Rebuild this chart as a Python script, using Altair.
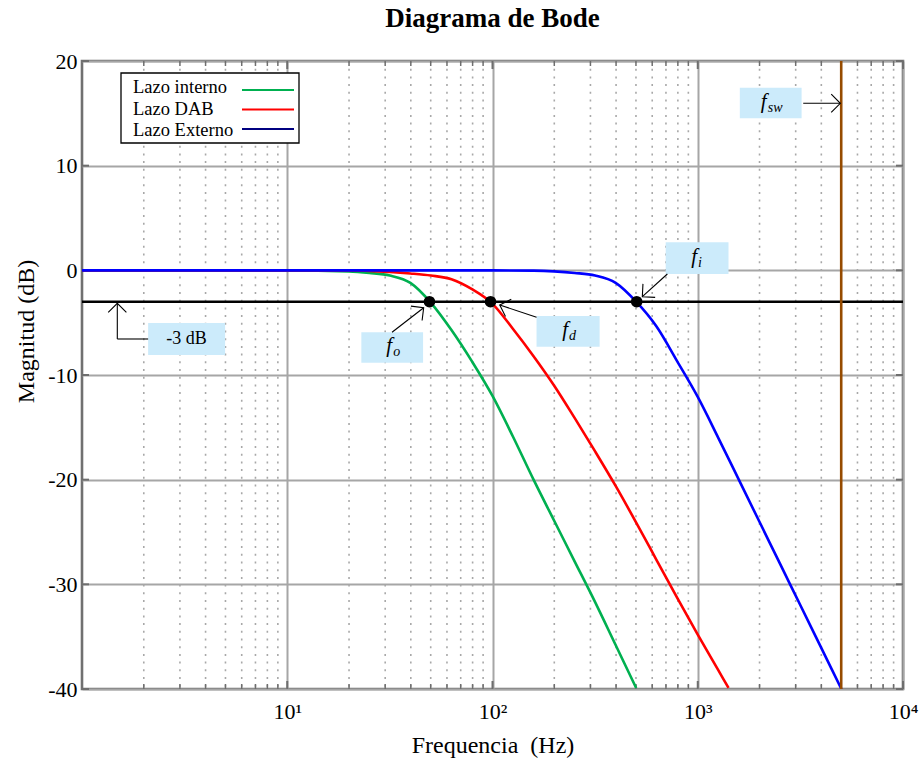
import altair as alt
import pandas as pd
import numpy as np

FONT = "Liberation Serif"

# ---- curve data ----
freq_interno = [1, 10, 19.95, 25.12, 31.62, 39.81, 50.12, 63.10, 79.43, 100, 125.9, 158.5, 199.5, 251.2, 316.2, 398.1, 501.2]
mag_interno = [0, 0, -0.1, -0.25, -0.5, -1.2, -3.1, -5.7, -8.7, -12.0, -15.9, -20.0, -23.9, -27.8, -31.7, -35.8, -39.9]

freq_dab = [1, 10, 19.95, 25.12, 31.62, 39.81, 50.12, 63.10, 79.43, 100, 125.9, 158.5, 199.5, 251.2, 316.2, 398.1, 501.2, 631.0, 794.3, 1000, 1258.9, 1412.5]
mag_dab = [0, 0, -0.02, -0.05, -0.15, -0.3, -0.5, -0.85, -1.8, -3.2, -5.6, -8.2, -11.0, -14.1, -17.3, -20.6, -24.1, -27.7, -31.3, -34.8, -38.2, -39.9]

freq_externo = [1, 100, 158.5, 199.5, 251.2, 316.2, 398.1, 501.2, 631.0, 794.3, 1000, 1258.9, 1584.9, 1995.3, 2511.9, 3162.3, 3981.1, 5011.9]
mag_externo = [0, 0, -0.03, -0.1, -0.25, -0.5, -1.2, -3.0, -5.4, -8.7, -12.1, -16.0, -20.0, -24.0, -28.0, -32.0, -36.0, -40.0]

series_names = ["Lazo interno", "Lazo DAB", "Lazo Externo"]
series_colors = ["#00B050", "#FF0000", "#0000FF"]
legend_colors = ["#00B050", "#FF0000", "#000080"]

# cutoff points (-3 dB)
cut_freq = [49.3, 97.8, 504]
cut_mag = [-3, -3, -3]
f_sw = 5000
level_3db = -3

# grid / tick positions
major_x = [10, 100, 1000, 10000]
minor_x = [m * d for d in [1, 10, 100, 1000] for m in range(2, 10)]
major_y = [-40, -30, -20, -10, 0, 10, 20]

# annotations (data coordinates)
box_main = ["f", "f", "f", "f"]
box_sub = ["o", "d", "i", "sw"]
box_x1 = [22.96, 163.9, 698, 1603]
box_x2 = [45.9, 332.6, 1412, 3206]
box_y1 = [-5.92, -4.36, 2.68, 17.45]
box_y2 = [-8.82, -7.29, -0.35, 14.52]

db_box = dict(x1=[2.10], x2=[4.98], y1=[-5.03], y2=[-8.09], label=["-3 dB"])

arrow_x1 = [2.10, 1.486, 32.4, 163.9, 711, 3265]
arrow_y1 = [-6.56, -6.56, -5.92, -4.49, -0.35, 15.96]
arrow_x2 = [1.486, 1.486, 46.2, 108.5, 537, 4950]
arrow_y2 = [-6.56, -3.15, -3.57, -3.31, -2.52, 15.96]
head_angle = [270, 322, 198.5, 137.8, 0]

# ---- build tables ----
curves = pd.concat([
    pd.DataFrame({"f": freq_interno, "m": mag_interno, "s": series_names[0]}),
    pd.DataFrame({"f": freq_dab, "m": mag_dab, "s": series_names[1]}),
    pd.DataFrame({"f": freq_externo, "m": mag_externo, "s": series_names[2]}),
])

XS = alt.Scale(type="log", domain=[1, 10000], nice=False)
YS = alt.Scale(domain=[-40, 20], nice=False, zero=False)
XA = alt.Axis(values=major_x, grid=True, gridColor="#A6A6A6", gridWidth=2, ticks=False, domain=False,
              labelFlush=False, labelOverlap=False, labelPadding=12, labelFontSize=22, labelColor="black",
              labelFont=FONT,
              labelExpr="datum.value == 10 ? '10\u00b9' : datum.value == 100 ? '10\u00b2' : datum.value == 1000 ? '10\u00b3' : '10\u2074'",
              title="Frequencia\u00a0\u00a0(Hz)", titleFontSize=24, titleFontWeight="normal", titleColor="black",
              titleFont=FONT, titleY=56, titleBaseline="middle")
YA = alt.Axis(values=major_y, grid=True, gridColor="#A6A6A6", gridWidth=2, ticks=False, domain=False,
              labelFlush=False, labelOverlap=False, labelPadding=5, labelFontSize=22, labelColor="black",
              labelFont=FONT, labelExpr="'' + datum.value",
              title="Magnitud (dB)", titleFontSize=24, titleFontWeight="normal", titleColor="black",
              titleFont=FONT, titleX=-56, titleY=270, titleAlign="center", titleBaseline="middle")


def X(f):
    return alt.X(f, type="quantitative", scale=XS, axis=XA)


def Y(f):
    return alt.Y(f, type="quantitative", scale=YS, axis=YA)


layers = []

# minor dotted grid
layers.append(alt.Chart(pd.DataFrame({"x": minor_x})).mark_rule(
    stroke="#A8A8A8", strokeWidth=1.6, strokeDash=[2, 5.7]).encode(x=X("x")))
# ticks drawn inside the frame
layers.append(alt.Chart(pd.DataFrame({"x": minor_x})).mark_rule(stroke="#6E6E6E", strokeWidth=1.5).encode(
    x=X("x"), y=alt.value(628), y2=alt.value(623)))
layers.append(alt.Chart(pd.DataFrame({"x": minor_x})).mark_rule(stroke="#6E6E6E", strokeWidth=1.5).encode(
    x=X("x"), y=alt.value(0), y2=alt.value(5)))
layers.append(alt.Chart(pd.DataFrame({"x": major_x})).mark_rule(stroke="#6E6E6E", strokeWidth=2).encode(
    x=X("x"), y=alt.value(628), y2=alt.value(620)))
layers.append(alt.Chart(pd.DataFrame({"x": major_x})).mark_rule(stroke="#6E6E6E", strokeWidth=2).encode(
    x=X("x"), y=alt.value(0), y2=alt.value(8)))
layers.append(alt.Chart(pd.DataFrame({"y": major_y})).mark_rule(stroke="#6E6E6E", strokeWidth=2).encode(
    y=Y("y"), x=alt.value(0), x2=alt.value(7)))
layers.append(alt.Chart(pd.DataFrame({"y": major_y})).mark_rule(stroke="#6E6E6E", strokeWidth=2).encode(
    y=Y("y"), x=alt.value(814), x2=alt.value(821)))

# curves
layers.append(alt.Chart(curves).mark_line(strokeWidth=2.6, interpolate="monotone", clip=True).encode(
    x=X("f"), y=Y("m"),
    color=alt.Color("s:N", scale=alt.Scale(domain=series_names, range=series_colors), legend=None),
    detail="s:N"))

# -3 dB level and switching frequency
layers.append(alt.Chart(pd.DataFrame({"y": [level_3db]})).mark_rule(stroke="black", strokeWidth=2.6).encode(y=Y("y")))
layers.append(alt.Chart(pd.DataFrame({"x": [f_sw]})).mark_rule(stroke="#964B00", strokeWidth=2.6).encode(x=X("x")))

# cutoff markers
layers.append(alt.Chart(pd.DataFrame({"f": cut_freq, "m": cut_mag})).mark_circle(
    size=135, color="black", opacity=1).encode(x=X("f"), y=Y("m")))

# annotation boxes
boxes = pd.DataFrame({"x1": box_x1, "x2": box_x2, "y1": box_y1, "y2": box_y2, "main": box_main, "sub": box_sub})
boxes["cx"] = np.sqrt(boxes["x1"] * boxes["x2"])
boxes["cy"] = (boxes["y1"] + boxes["y2"]) / 2
dbb = pd.DataFrame(db_box)
dbb["cx"] = np.sqrt(dbb["x1"] * dbb["x2"])
dbb["cy"] = (dbb["y1"] + dbb["y2"]) / 2

BOXC = "#CCEBFB"
layers.append(alt.Chart(boxes).mark_rect(fill=BOXC).encode(x=X("x1"), x2="x2", y=Y("y1"), y2="y2"))
layers.append(alt.Chart(dbb).mark_rect(fill=BOXC).encode(x=X("x1"), x2="x2", y=Y("y1"), y2="y2"))
layers.append(alt.Chart(dbb).mark_text(fontSize=18, font=FONT, color="black").encode(
    x=X("cx"), y=Y("cy"), text="label:N"))

b_small = boxes[boxes["sub"] != "sw"]
b_sw = boxes[boxes["sub"] == "sw"]
for df, dx_main in [(b_small, 0), (b_sw, -4)]:
    layers.append(alt.Chart(df).mark_text(fontSize=21, font=FONT, fontStyle="italic", align="right",
                                          baseline="middle", dx=dx_main, dy=-1, color="black").encode(
        x=X("cx"), y=Y("cy"), text="main:N"))
    layers.append(alt.Chart(df).mark_text(fontSize=14, font=FONT, fontStyle="italic", align="left",
                                          baseline="middle", dx=dx_main + 1, dy=5, color="black").encode(
        x=X("cx"), y=Y("cy"), text="sub:N"))

# arrows
arrows = pd.DataFrame({"x1": arrow_x1, "y1": arrow_y1, "x2": arrow_x2, "y2": arrow_y2})
layers.append(alt.Chart(arrows).mark_rule(stroke="black", strokeWidth=1.1).encode(
    x=X("x1"), y=Y("y1"), x2="x2", y2="y2"))
heads = pd.DataFrame({"x": arrow_x2[1:], "y": arrow_y2[1:], "a": head_angle})
layers.append(alt.Chart(heads).mark_point(shape="M-1,-1L0,0L-1,1", filled=False, stroke="black",
                                          strokeWidth=1.1, size=330, opacity=1).encode(
    x=X("x"), y=Y("y"), angle=alt.Angle("a:Q", scale=None)))

# legend (drawn by hand, as in the reference)
legend_frame = pd.DataFrame({"k": [0]})
layers.append(alt.Chart(legend_frame).mark_rect(fill="white", stroke="black", strokeWidth=1.3).encode(
    x=alt.value(39), x2=alt.value(217), y=alt.value(12), y2=alt.value(82)))
for i, (name, col) in enumerate(zip(series_names, legend_colors)):
    d = pd.DataFrame({"label": [name]})
    layers.append(alt.Chart(d).mark_text(fontSize=18.5, font=FONT, align="left", baseline="middle",
                                         color="black").encode(
        x=alt.value(51), y=alt.value(26 + 21.5 * i), text="label:N"))
    layers.append(alt.Chart(d).mark_rule(stroke=col, strokeWidth=2).encode(
        x=alt.value(160), x2=alt.value(212), y=alt.value(29 + 19.5 * i)))

chart = alt.layer(*layers).properties(
    width=821, height=628,
    title=alt.TitleParams("Diagrama de Bode", font=FONT, fontSize=27, fontWeight="bold", color="black",
                          anchor="middle", baseline="bottom", offset=14, dy=24),
    autosize=alt.AutoSizeParams(type="none"),
    padding={"left": 82, "top": 61, "right": 16, "bottom": 77},
).configure(font=FONT).configure_view(stroke="#707070", strokeWidth=2.6)

chart.save("out.html", embed_options={"renderer": "svg", "actions": False})
